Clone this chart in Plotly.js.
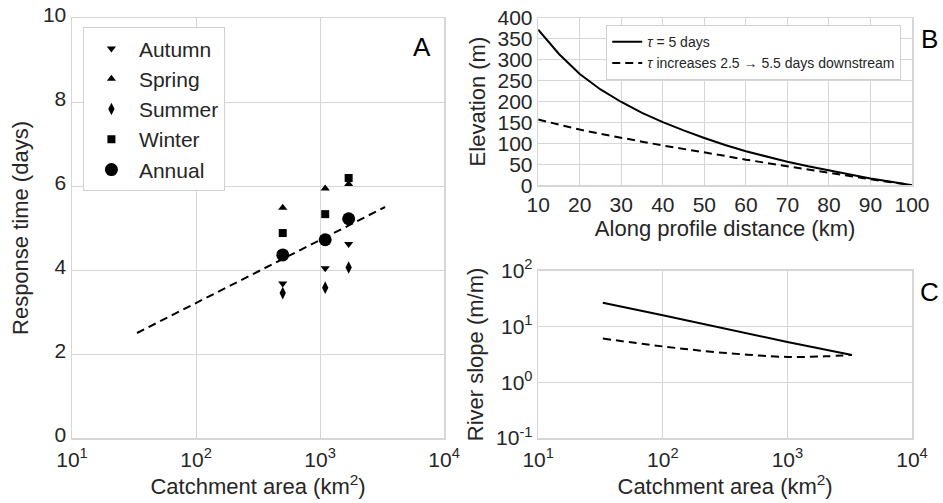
<!DOCTYPE html>
<html>
<head>
<meta charset="utf-8">
<script src="https://cdn.plot.ly/plotly-3.0.1.min.js"></script>
<style>html,body{margin:0;padding:0;background:#fff;}#chart{width:943px;height:503px;}</style>
</head>
<body>
<div id="chart"></div>
<script>
// Panel A: response time vs catchment area
const catchArea = [500, 1100, 1700];
const autumn = [3.68, 4.04, 4.62];
const spring = [5.48, 5.94, 6.05];
const summer = [3.45, 3.58, 4.06];
const winter = [4.88, 5.33, 6.19];
const annual = [4.36, 4.72, 5.22];
const fitArea = [33.4, 3340];
const fitTau = [2.5, 5.5];

// Panel B: elevation along profile
const distance = [10, 15, 20, 25, 30, 35, 40, 45, 50, 55, 60, 65, 70, 75, 80, 85, 90, 95, 100];
const elevConst = [372, 314, 266, 229, 199, 173, 151, 131, 113, 96, 81, 68, 56, 45, 35, 25, 16, 8, 0];
const elevVar = [157, 145, 133, 123, 113, 104, 95, 87, 78, 70, 61, 53, 46, 38, 30, 22, 14, 7, 0];

// Panel C: river slope vs catchment area
const slopeAreaConst = [33, 100, 1000, 3300];
const slopeConst = [26.7, 16, 5.3, 3.1];
const slopeAreaVar = [33, 100, 300, 1000, 2000, 3300];
const slopeVar = [6.1, 4.4, 3.4, 2.85, 2.92, 3.1];

const legendA = ['Autumn', 'Spring', 'Summer', 'Winter', 'Annual'];
const legendB = ['<i>τ</i> = 5 days', '<i>τ</i> increases 2.5 → 5.5 days downstream'];
const logTicks = [10, 100, 1000, 10000];
const logTickText = ['10<sup>1</sup>', '10<sup>2</sup>', '10<sup>3</sup>', '10<sup>4</sup>'];
const slopeTicks = [0.1, 1, 10, 100];
const slopeTickText = ['10<sup>-1</sup>', '10<sup>0</sup>', '10<sup>1</sup>', '10<sup>2</sup>'];

const txt = '#262626';
const grid = '#d6d6d6';
const FONT = 'Liberation Sans, Arial, sans-serif';

const seasonal = [autumn, spring, summer, winter, annual];
const symbols = ['triangle-down', 'triangle-up', 'diamond-tall', 'square', 'circle'];
const sizes = [8, 8, 9, 8, 13];

const traces = [];
seasonal.forEach((vals, i) => {
  traces.push({
    x: catchArea, y: vals, type: 'scatter', mode: 'markers', name: legendA[i],
    xaxis: 'x', yaxis: 'y', legend: 'legend',
    marker: {symbol: symbols[i], size: sizes[i], color: '#000'}
  });
});
traces.push({
  x: fitArea, y: fitTau, type: 'scatter', mode: 'lines', showlegend: false,
  xaxis: 'x', yaxis: 'y', line: {color: '#000', width: 2, dash: '8px,5px'}
});
traces.push({
  x: distance, y: elevConst, type: 'scatter', mode: 'lines', name: legendB[0],
  xaxis: 'x2', yaxis: 'y2', legend: 'legend2', line: {color: '#000', width: 2}
});
traces.push({
  x: distance, y: elevVar, type: 'scatter', mode: 'lines', name: legendB[1],
  xaxis: 'x2', yaxis: 'y2', legend: 'legend2', line: {color: '#000', width: 2, dash: '8px,5px'}
});
traces.push({
  x: slopeAreaConst, y: slopeConst, type: 'scatter', mode: 'lines', showlegend: false,
  xaxis: 'x3', yaxis: 'y3', line: {color: '#000', width: 2}
});
traces.push({
  x: slopeAreaVar, y: slopeVar, type: 'scatter', mode: 'lines', showlegend: false,
  xaxis: 'x3', yaxis: 'y3', line: {color: '#000', width: 2, dash: '8px,5px', shape: 'spline'}
});

const axisBase = {
  showgrid: true, gridcolor: grid, gridwidth: 1, zeroline: false,
  showline: true, linecolor: grid, linewidth: 1.5, mirror: true,
  ticks: '', tickfont: {size: 21, color: txt, family: FONT}
};
const titleFont = {size: 22, color: txt, family: FONT};

const layout = {
  width: 943, height: 503,
  margin: {l: 72, r: 31, t: 18, b: 65},
  paper_bgcolor: '#fff', plot_bgcolor: '#fff',
  font: {family: FONT, color: txt},
  xaxis: Object.assign({}, axisBase, {
    domain: [0, 0.443], type: 'log', range: [1, 4], anchor: 'y',
    tickvals: logTicks, ticktext: logTickText, ticklabelstandoff: 2,
    title: {text: 'Catchment area (km<sup>2</sup>)', font: titleFont, standoff: 5}
  }),
  yaxis: Object.assign({}, axisBase, {
    domain: [0, 1], range: [0, 10], anchor: 'x', dtick: 2, ticklabelshift: -3,
    title: {text: 'Response time (days)', font: titleFont, standoff: 8}
  }),
  xaxis2: Object.assign({}, axisBase, {
    domain: [0.555, 1], range: [10, 100], anchor: 'y2', dtick: 10,
    title: {text: 'Along profile distance (km)', font: titleFont, standoff: 4}
  }),
  yaxis2: Object.assign({}, axisBase, {
    domain: [0.602, 1], range: [0, 400], anchor: 'x2', dtick: 50,
    title: {text: 'Elevation (m)', font: titleFont, standoff: 6}
  }),
  xaxis3: Object.assign({}, axisBase, {
    domain: [0.555, 1], type: 'log', range: [1, 4], anchor: 'y3',
    tickvals: logTicks, ticktext: logTickText, ticklabelstandoff: 2,
    title: {text: 'Catchment area (km<sup>2</sup>)', font: titleFont, standoff: 5}
  }),
  yaxis3: Object.assign({}, axisBase, {
    domain: [0, 0.398], type: 'log', range: [-1, 2], anchor: 'x3',
    tickvals: slopeTicks, ticktext: slopeTickText,
    title: {text: 'River slope (m/m)', font: titleFont, standoff: 6}
  }),
  legend: {
    x: 0.013, y: 0.978, xanchor: 'left', yanchor: 'top',
    bgcolor: '#fff', bordercolor: '#d0d0d0', borderwidth: 1,
    font: {size: 21, color: txt, family: FONT}, itemwidth: 45,
    tracegroupgap: 0
  },
  legend2: {
    x: 0.636, y: 0.983, xanchor: 'left', yanchor: 'top',
    bgcolor: '#fff', bordercolor: '#d0d0d0', borderwidth: 1,
    font: {size: 14, color: txt, family: FONT}
  },
  annotations: [
    {text: 'A', xref: 'paper', yref: 'paper', x: (422 - 72) / 840, y: (438 - 47) / 420, showarrow: false, font: {size: 26, color: '#000', family: FONT}, xanchor: 'center', yanchor: 'middle'},
    {text: 'B', xref: 'paper', yref: 'paper', x: (930 - 72) / 840, y: (438 - 39) / 420, showarrow: false, font: {size: 26, color: '#000', family: FONT}, xanchor: 'center', yanchor: 'middle'},
    {text: 'C', xref: 'paper', yref: 'paper', x: (930 - 72) / 840, y: (438 - 292) / 420, showarrow: false, font: {size: 26, color: '#000', family: FONT}, xanchor: 'center', yanchor: 'middle'}
  ],
  showlegend: true
};

Plotly.newPlot('chart', traces, layout, {displayModeBar: false, staticPlot: true});
</script>
</body>
</html>
